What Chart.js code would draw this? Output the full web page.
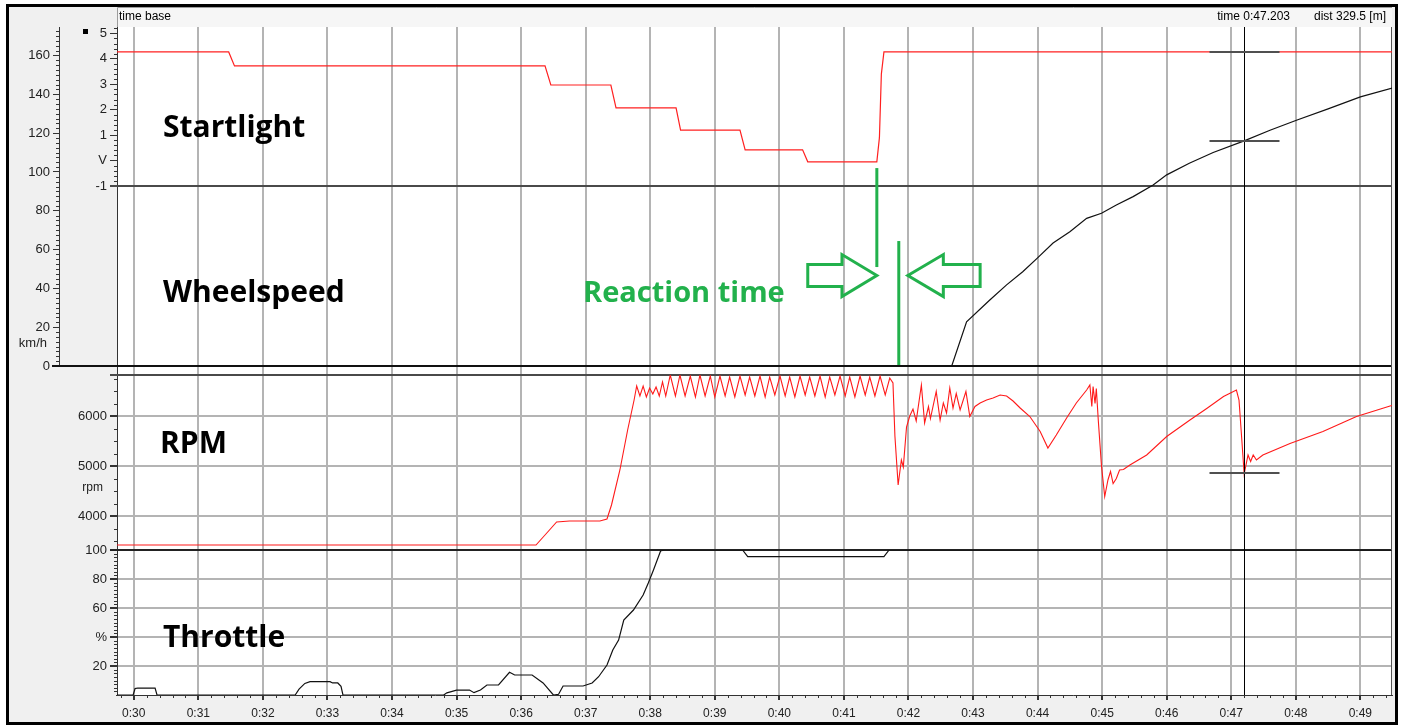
<!DOCTYPE html>
<html lang="en">
<head>
<meta charset="UTF-8">
<title>Reaction time at the start</title>
<script src="https://cdn.jsdelivr.net/npm/chart.js"></script>
<style>
  html, body { margin: 0; padding: 0; background: #fff; }
  canvas { display: block; }
</style>
</head>
<body>
<canvas id="chart" width="1403" height="725"></canvas>
<script>
// ---- data (time in seconds, shown as 0:ss) ----
const timeTicks = [30, 31, 32, 33, 34, 35, 36, 37, 38, 39, 40, 41, 42, 43, 44, 45, 46, 47, 48, 49];
const speedTicks = [0, 20, 40, 60, 80, 100, 120, 140, 160];
const lightTicks = [-1, 0, 1, 2, 3, 4, 5];
const rpmTicks = [4000, 5000, 6000];
const throttleTicks = [20, 40, 60, 80, 100];

// [time, volt]
const lightTrace = [
  [29.70, 4.27], [31.47, 4.27], [31.56, 3.72], [36.37, 3.72], [36.46, 2.97], [37.39, 2.97],
  [37.47, 2.07], [38.40, 2.07], [38.47, 1.20], [39.39, 1.20], [39.47, 0.42], [40.36, 0.42],
  [40.44, -0.05], [41.51, -0.05], [41.55, 0.90], [41.58, 3.40], [41.62, 4.27], [49.60, 4.27]
];

// [time, km/h]
const speedTrace = [
  [29.70, 0], [42.67, 0], [42.90, 22.8], [43.26, 34], [43.52, 41.8], [43.77, 48.6], [44.00, 55.7],
  [44.24, 63.4], [44.50, 69.2], [44.76, 76.1], [44.99, 78.7], [45.22, 83], [45.48, 87.3],
  [45.79, 93.3], [46.00, 98.5], [46.35, 104.5], [46.72, 110], [47.20, 116], [47.60, 121.5],
  [48.02, 126.8], [48.50, 132.5], [49.00, 138.7], [49.50, 143.3]
];

// [time, rpm]
const rpmTrace = [
  [29.70, 3420], [36.23, 3420], [36.37, 3620], [36.55, 3880], [36.75, 3900], [37.22, 3900],
  [37.33, 3940], [37.40, 4220], [37.53, 4920], [37.65, 5720], [37.75, 6320], [37.79, 6600],
  [37.84, 6400], [37.89, 6600], [37.94, 6380], [37.99, 6560], [38.04, 6440], [38.09, 6580],
  [38.14, 6400], [38.19, 6680], [38.24, 6400], [38.31, 6820], [38.39, 6400], [38.46, 6820],
  [38.54, 6400], [38.62, 6800], [38.70, 6380], [38.77, 6820], [38.85, 6400], [38.93, 6800],
  [39.00, 6380], [39.08, 6800], [39.16, 6400], [39.23, 6780], [39.31, 6380], [39.39, 6800],
  [39.47, 6420], [39.54, 6780], [39.62, 6400], [39.70, 6800], [39.78, 6380], [39.85, 6780],
  [39.93, 6420], [40.01, 6800], [40.09, 6400], [40.16, 6780], [40.24, 6380], [40.32, 6800],
  [40.40, 6420], [40.47, 6780], [40.55, 6400], [40.63, 6800], [40.71, 6380], [40.78, 6780],
  [40.86, 6420], [40.94, 6800], [41.02, 6400], [41.09, 6780], [41.17, 6380], [41.25, 6800],
  [41.33, 6420], [41.40, 6780], [41.48, 6400], [41.56, 6800], [41.64, 6420], [41.71, 6760],
  [41.76, 6660], [41.79, 5600], [41.84, 4620], [41.89, 5120], [41.92, 4980], [41.97, 5780],
  [42.02, 6000], [42.07, 6140], [42.12, 5900], [42.20, 6620], [42.25, 5860], [42.31, 6190],
  [42.34, 5950], [42.43, 6490], [42.49, 5920], [42.54, 6260], [42.59, 6060], [42.64, 6560],
  [42.69, 6160], [42.74, 6450], [42.80, 6120], [42.89, 6490], [42.95, 5990], [43.03, 6190],
  [43.11, 6260], [43.21, 6320], [43.31, 6360], [43.42, 6420], [43.52, 6400], [43.62, 6300],
  [43.73, 6160], [43.88, 5990], [44.04, 5690], [44.16, 5360], [44.29, 5620], [44.45, 5960],
  [44.60, 6260], [44.76, 6520], [44.81, 6620], [44.84, 6190], [44.86, 6590], [44.89, 6250],
  [44.91, 6550], [44.94, 5920], [44.99, 5000], [45.04, 4390], [45.09, 4720], [45.13, 4890],
  [45.17, 4650], [45.22, 4750], [45.27, 4920], [45.33, 4930], [45.43, 5020], [45.69, 5220],
  [46.00, 5590], [46.36, 5920], [46.62, 6150], [46.88, 6390], [47.08, 6520], [47.12, 6320],
  [47.16, 5590], [47.20, 4840], [47.26, 5220], [47.30, 5090], [47.34, 5220], [47.39, 5120],
  [47.49, 5220], [47.91, 5450], [48.42, 5690], [48.94, 5990], [49.46, 6200], [49.55, 6230]
];

// [time, %]
const throttleTrace = [
  [29.70, 0], [29.99, 0], [30.02, 4.5], [30.06, 4.8], [30.33, 4.8], [30.36, 0],
  [32.50, 0], [32.56, 4], [32.65, 8], [32.73, 9.2], [33.04, 9.2], [33.08, 8.3], [33.16, 8.3],
  [33.21, 6], [33.24, 0], [34.80, 0], [34.85, 1.5], [35.00, 3.4], [35.20, 3.4], [35.27, 1.6],
  [35.37, 3.4], [35.47, 6.9], [35.65, 6.9], [35.82, 15.7], [35.90, 13.8], [36.17, 13.8],
  [36.34, 8.3], [36.50, 0], [36.58, 0.5], [36.65, 6.2], [36.96, 6.2], [37.10, 8.3],
  [37.20, 12.6], [37.33, 20.7], [37.42, 31], [37.51, 37.9], [37.59, 51.7], [37.74, 58.6],
  [37.89, 69], [37.97, 77.2], [38.05, 86.2], [38.16, 99.3], [38.22, 100], [39.43, 100],
  [39.51, 95.5], [41.62, 95.5], [41.70, 100], [49.60, 100]
];

const cursorTime = 47.203;
const headerLeft = 'time base';
const headerTime = 'time 0:47.203';
const headerDist = 'dist 329.5 [m]';
const panelNames = ['Startlight', 'Wheelspeed', 'RPM', 'Throttle'];
const reactionLabel = 'Reaction time';
// reaction window: light goes out / car starts to react
const lightsOut = 41.51;
const reactStart = 41.85;

// ---- helpers ----
const gridGray = '#b4b4b4';
const ink = '#333333';
const green = '#22b14c';

function toPoints(trace) {
  return trace.map(p => ({ x: p[0], y: p[1] }));
}
function setTicks(list) {
  return scale => { scale.ticks = list.map(v => ({ value: v })); };
}
function fixedWidth(w) {
  return scale => { scale.width = w; };
}
function valueAt(trace, t) {
  for (let i = 1; i < trace.length; i++) {
    if (trace[i][0] >= t) {
      const a = trace[i - 1], b = trace[i];
      return a[1] + (b[1] - a[1]) * (t - a[0]) / (b[0] - a[0]);
    }
  }
  return trace[trace.length - 1][1];
}
function line(ctx, x1, y1, x2, y2, color, w) {
  ctx.strokeStyle = color;
  ctx.lineWidth = w;
  ctx.beginPath();
  ctx.moveTo(x1, y1);
  ctx.lineTo(x2, y2);
  ctx.stroke();
}
function minorTicks(ctx, scale, from, to, step, every, len, vertical) {
  ctx.strokeStyle = ink;
  ctx.lineWidth = 1;
  ctx.beginPath();
  for (let k = from; k <= to; k++) {
    if (k % every === 0) continue;
    const p = Math.round(scale.getPixelForValue(k * step)) + 0.5;
    if (vertical) {
      ctx.moveTo(scale.right - len, p);
      ctx.lineTo(scale.right, p);
    } else {
      ctx.moveTo(p, scale.top);
      ctx.lineTo(p, scale.top + len);
    }
  }
  ctx.stroke();
}
function blockArrow(ctx, tipX, baseX, endX, cy) {
  ctx.beginPath();
  ctx.moveTo(tipX, cy);
  ctx.lineTo(baseX, cy - 21);
  ctx.lineTo(baseX, cy - 11);
  ctx.lineTo(endX, cy - 11);
  ctx.lineTo(endX, cy + 11);
  ctx.lineTo(baseX, cy + 11);
  ctx.lineTo(baseX, cy + 21);
  ctx.closePath();
  ctx.stroke();
}

const decor = {
  id: 'decor',
  beforeDraw(chart) {
    const { ctx, chartArea: a, width, height } = chart;
    ctx.save();
    ctx.fillStyle = '#ffffff';
    ctx.fillRect(0, 0, width, height);
    ctx.fillStyle = '#f0f0f0';
    ctx.fillRect(8, 6, 1388, 717);
    ctx.strokeStyle = '#000';
    ctx.lineWidth = 3;
    ctx.strokeRect(7.5, 5.5, 1389, 718);
    ctx.fillStyle = '#ffffff';
    ctx.fillRect(a.left, a.top, a.right - a.left, a.bottom - a.top);

    // header strip
    ctx.fillStyle = '#f6f6f6';
    ctx.fillRect(a.left, 8, a.right - a.left, a.top - 8);
    ctx.strokeStyle = '#9c9c9c';
    ctx.lineWidth = 1;
    ctx.beginPath();
    ctx.moveTo(a.left + 0.5, a.top);
    ctx.lineTo(a.left + 0.5, 7.5);
    ctx.lineTo(a.right, 7.5);
    ctx.stroke();
    ctx.fillStyle = '#000';
    ctx.font = '12px "Liberation Sans", Arial, sans-serif';
    ctx.textBaseline = 'middle';
    ctx.textAlign = 'left';
    ctx.fillText(headerLeft, a.left + 2, 17);
    ctx.textAlign = 'right';
    ctx.fillText(headerTime, 1290, 17);
    ctx.fillText(headerDist, 1386, 17);

    // small marker square
    ctx.fillStyle = '#000';
    ctx.fillRect(83, 29, 5, 5);
    ctx.restore();
  },
  beforeDatasetsDraw(chart) {
    const { ctx, chartArea: a, scales } = chart;
    const { x, ySpeed, yLight, yRpm, yThr } = scales;
    ctx.save();
    minorTicks(ctx, x, 149, 247, 0.2, 5, 3, false);
    minorTicks(ctx, ySpeed, 1, 69, 2.5, 8, 3, true);
    minorTicks(ctx, yLight, -5, 26, 0.2, 5, 3, true);
    minorTicks(ctx, yRpm, 14, 27, 250, 4, 3, true);
    minorTicks(ctx, yThr, 1, 39, 2.5, 8, 3, true);

    // panel boundaries
    line(ctx, 110, yLight.bottom, a.right, yLight.bottom, '#4a4a4a', 2);
    line(ctx, 52, ySpeed.bottom, a.right, ySpeed.bottom, '#111', 2);
    line(ctx, 110, yRpm.top, a.right, yRpm.top, '#4a4a4a', 2);
    line(ctx, 110, yRpm.bottom, a.right, yRpm.bottom, '#222', 2);
    line(ctx, a.right - 0.5, a.top, a.right - 0.5, a.bottom, '#555', 1);

    // unit labels
    ctx.fillStyle = '#222';
    ctx.textBaseline = 'middle';
    ctx.textAlign = 'right';
    ctx.font = '13px "Liberation Sans", Arial, sans-serif';
    ctx.fillText('km/h', 47, ySpeed.getPixelForValue(11.8));
    ctx.font = '12px "Liberation Sans", Arial, sans-serif';
    ctx.fillText('rpm', 103, yRpm.getPixelForValue(4560));
    ctx.restore();
  },
  afterDatasetsDraw(chart) {
    const { ctx, chartArea: a, scales } = chart;
    const { x, ySpeed, yLight, yRpm } = scales;
    ctx.save();

    // cursor
    const cx = Math.round(x.getPixelForValue(cursorTime)) + 0.5;
    line(ctx, cx, a.top, cx, a.bottom, '#000', 1);
    const marks = [
      yLight.getPixelForValue(valueAt(lightTrace, cursorTime)),
      ySpeed.getPixelForValue(valueAt(speedTrace, cursorTime)),
      yRpm.getPixelForValue(valueAt(rpmTrace, cursorTime))
    ];
    marks.forEach(my => line(ctx, cx - 35, Math.round(my), cx + 35, Math.round(my), '#505050', 2));

    // panel names
    ctx.fillStyle = '#000';
    ctx.textAlign = 'left';
    ctx.textBaseline = 'alphabetic';
    ctx.font = 'bold 30px "Open Sans", sans-serif';
    ctx.fillText(panelNames[0], 163, 137);
    ctx.fillText(panelNames[1], 163, 302);
    ctx.fillText(panelNames[2], 160, 453);
    ctx.fillText(panelNames[3], 163, 647);

    // reaction time annotation
    ctx.fillStyle = green;
    ctx.font = 'bold 29px "Open Sans", sans-serif';
    ctx.fillText(reactionLabel, 583, 302);
    const xa = x.getPixelForValue(lightsOut);
    const xb = x.getPixelForValue(reactStart);
    line(ctx, xa, ySpeed.getPixelForValue(102), xa, ySpeed.getPixelForValue(51), green, 3);
    line(ctx, xb, ySpeed.getPixelForValue(64.4), xb, ySpeed.getPixelForValue(0.5), green, 3);
    ctx.strokeStyle = green;
    ctx.lineWidth = 3;
    ctx.lineJoin = 'miter';
    const cy = ySpeed.getPixelForValue(46.6);
    blockArrow(ctx, xa, x.getPixelForValue(40.97), x.getPixelForValue(40.44), cy);
    blockArrow(ctx, x.getPixelForValue(41.99), x.getPixelForValue(42.54), x.getPixelForValue(43.11), cy);
    ctx.restore();
  }
};

const tickFont = { family: 'Liberation Sans', size: 13 };

new Chart(document.getElementById('chart'), {
  type: 'line',
  data: {
    datasets: [
      { label: 'Startlight', data: toPoints(lightTrace), yAxisID: 'yLight', borderColor: '#ff2020', borderWidth: 1.2 },
      { label: 'Wheelspeed', data: toPoints(speedTrace), yAxisID: 'ySpeed', borderColor: '#111', borderWidth: 1.2 },
      { label: 'RPM', data: toPoints(rpmTrace), yAxisID: 'yRpm', borderColor: '#ff1a1a', borderWidth: 1.1 },
      { label: 'Throttle', data: toPoints(throttleTrace), yAxisID: 'yThr', borderColor: '#111', borderWidth: 1.2 }
    ]
  },
  options: {
    responsive: false,
    animation: false,
    events: [],
    layout: { padding: { left: 12, top: 27, right: 11, bottom: 0 } },
    elements: { point: { radius: 0 }, line: { tension: 0 } },
    plugins: { legend: { display: false }, tooltip: { enabled: false } },
    scales: {
      x: {
        type: 'linear', position: 'bottom', min: 29.74, max: 49.49,
        afterBuildTicks: setTicks(timeTicks),
        afterFit: s => { s.height = 30; },
        ticks: { autoSkip: false, maxRotation: 0, padding: 6, color: '#222',
                 font: { family: 'Liberation Sans', size: 12 }, callback: v => '0:' + v },
        grid: { color: gridGray, lineWidth: 2, tickColor: ink, tickLength: 5 },
        border: { color: ink, width: 1 }
      },
      ySpeed: {
        type: 'linear', position: 'left', stack: 'outer', stackWeight: 339, weight: 3,
        min: 0, max: 174.7,
        afterBuildTicks: setTicks(speedTicks), afterFit: fixedWidth(47),
        ticks: { autoSkip: false, padding: 3, color: '#222', font: tickFont, callback: v => String(v) },
        grid: { drawOnChartArea: false, tickLength: 6, tickColor: ink },
        border: { color: ink, width: 1 }
      },
      yBlank: {
        type: 'linear', position: 'left', stack: 'outer', stackWeight: 329, weight: 2.9,
        min: 0, max: 1, afterFit: fixedWidth(47),
        ticks: { display: false }, grid: { display: false }, border: { display: false }
      },
      yLight: {
        type: 'linear', position: 'left', stack: 'inner', stackWeight: 159, weight: 1.4,
        min: -1, max: 5.25,
        afterBuildTicks: setTicks(lightTicks), afterFit: fixedWidth(58),
        ticks: { autoSkip: false, padding: 3, color: '#222', font: tickFont,
                 callback: v => (v === 0 ? 'V' : String(v)) },
        grid: { drawOnChartArea: false, tickLength: 7, tickColor: ink },
        border: { color: ink, width: 1 }
      },
      yWheel: {
        type: 'linear', position: 'left', stack: 'inner', stackWeight: 180, weight: 1.3,
        min: 0, max: 1, afterFit: fixedWidth(58),
        ticks: { display: false }, grid: { display: false }, border: { color: ink, width: 1 }
      },
      yGap: {
        type: 'linear', position: 'left', stack: 'inner', stackWeight: 9, weight: 1.2,
        min: 0, max: 1, afterFit: fixedWidth(58),
        ticks: { display: false }, grid: { display: false }, border: { color: ink, width: 1 }
      },
      yRpm: {
        type: 'linear', position: 'left', stack: 'inner', stackWeight: 175, weight: 1.1,
        min: 3320, max: 6820,
        afterBuildTicks: setTicks(rpmTicks), afterFit: fixedWidth(58),
        ticks: { autoSkip: false, padding: 3, color: '#222', font: tickFont, callback: v => String(v) },
        grid: { color: gridGray, lineWidth: 2, tickLength: 7, tickColor: ink },
        border: { color: ink, width: 1 }
      },
      yThr: {
        type: 'linear', position: 'left', stack: 'inner', stackWeight: 145, weight: 1.0,
        min: 0, max: 100,
        afterBuildTicks: setTicks(throttleTicks), afterFit: fixedWidth(58),
        ticks: { autoSkip: false, padding: 3, color: '#222', font: tickFont,
                 callback: v => (v === 40 ? '%' : String(v)) },
        grid: { color: gridGray, lineWidth: 2, tickLength: 7, tickColor: ink },
        border: { color: ink, width: 1 }
      }
    }
  },
  plugins: [decor]
});
</script>
</body>
</html>
